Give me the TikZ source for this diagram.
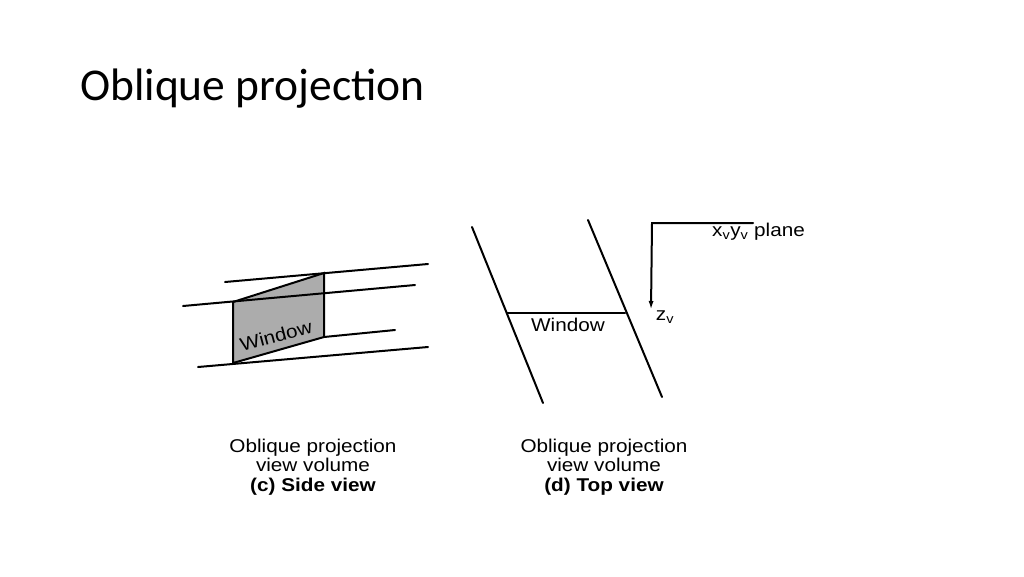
\documentclass[tikz,border=0pt]{standalone}
\usepackage{fontspec}
\setmainfont[FakeStretch=1.12]{Liberation Sans}
\newfontfamily\titlefont{Carlito}
\usetikzlibrary{arrows.meta}
\tikzset{
  ln/.style={line width=2pt, line cap=round},
  lbl/.style={font=\fontsize{18.5}{19.5}\selectfont, align=center, inner sep=0pt},
}
\begin{document}
\begin{tikzpicture}[x=1pt,y=-1pt]
  \useasboundingbox (0,0) rectangle (1024,576);
  \node[anchor=base west, inner sep=0pt, font=\titlefont\fontsize{45.5}{45.5}\selectfont] (T) at (80,100) {Oblique projection};

  % side view
  \coordinate (W1) at (233,302);
  \coordinate (W2) at (324,273);
  \coordinate (W3) at (324,337);
  \coordinate (W4) at (233,363);
  \fill[gray!65] (W1) -- (W2) -- (W3) -- (W4) -- cycle;
  \draw[ln] (W1) -- (W2) -- (W3) -- (W4) -- cycle;
  \draw[ln] (225,282) -- (428,264);
  \draw[ln] (183,306) -- (415,285);
  \draw[ln] (W3) -- (395,330);
  \draw[ln] (198,367) -- (428,347);
  \node[lbl, rotate=15] (SW) at (276,336) {Window};

  % top view
  \draw[ln] (472,227) -- (543,403);
  \draw[ln] (588,220) -- (662,397);
  \draw[ln] (507,313) -- (625,313);
  \node[lbl] (TW) at (568,325) {Window};

  % axes
  \coordinate (O) at (652,223);
  \draw[ln] (753,223) -- (O) -- (651,310) [arrows={-Latex[length=9pt,width=5pt]}];
  \node[lbl, anchor=west] (XY) at (712,232) {x\textsubscript{v}y\textsubscript{v} plane};
  \node[lbl] (Z) at (665,317) {z\textsubscript{v}};

  % captions
  \node[lbl] (C1) at (313,467) {Oblique projection\\view volume\\\textbf{(c) Side view}};
  \node[lbl] (C2) at (604,467) {Oblique projection\\view volume\\\textbf{(d) Top view}};
\end{tikzpicture}
\end{document}
